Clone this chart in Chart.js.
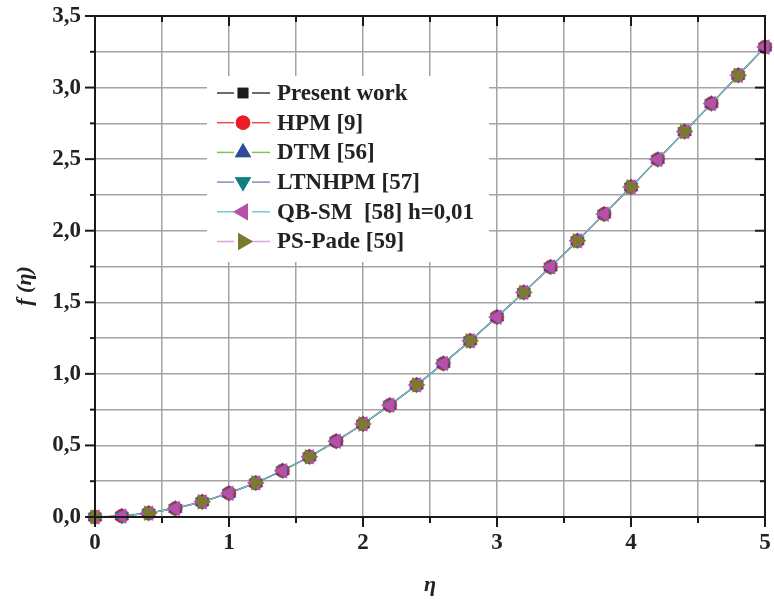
<!DOCTYPE html>
<html>
<head>
<meta charset="utf-8">
<script src="https://cdn.jsdelivr.net/npm/chart.js@4.4.1/dist/chart.umd.min.js"></script>
<style>
  html, body { margin: 0; padding: 0; background: #fff; }
  #wrap { width: 774px; height: 602px; }
</style>
</head>
<body>
<div id="wrap"><canvas id="c" width="774" height="602"></canvas></div>
<script>
// ---- Data ----
const eta = [0, 0.2, 0.4, 0.6, 0.8, 1.0, 1.2, 1.4, 1.6, 1.8, 2.0, 2.2, 2.4, 2.6, 2.8, 3.0, 3.2, 3.4, 3.6, 3.8, 4.0, 4.2, 4.4, 4.6, 4.8, 5.0];
const presentWork = [0, 0.0066, 0.0266, 0.0597, 0.1061, 0.1656, 0.2380, 0.3230, 0.4203, 0.5295, 0.6500, 0.7812, 0.9223, 1.0725, 1.2310, 1.3968, 1.5691, 1.7470, 1.9295, 2.1161, 2.3058, 2.4981, 2.6924, 2.8883, 3.0853, 3.2833];
const hpm9 = [0, 0.0066, 0.0266, 0.0597, 0.1061, 0.1656, 0.2380, 0.3230, 0.4203, 0.5295, 0.6500, 0.7812, 0.9223, 1.0725, 1.2310, 1.3968, 1.5691, 1.7470, 1.9295, 2.1161, 2.3058, 2.4981, 2.6924, 2.8883, 3.0853, 3.2833];
const dtm56 = [0, 0.0066, 0.0266, 0.0597, 0.1061, 0.1656, 0.2380, 0.3230, 0.4203, 0.5295, 0.6500, 0.7812, 0.9223, 1.0725, 1.2310, 1.3968, 1.5691, 1.7470, 1.9295, 2.1161, 2.3058, 2.4981, 2.6924, 2.8883, 3.0853, 3.2833];
const ltnhpm57 = [0, 0.0066, 0.0266, 0.0597, 0.1061, 0.1656, 0.2380, 0.3230, 0.4203, 0.5295, 0.6500, 0.7812, 0.9223, 1.0725, 1.2310, 1.3968, 1.5691, 1.7470, 1.9295, 2.1161, 2.3058, 2.4981, 2.6924, 2.8883, 3.0853, 3.2833];
const qbsm58 = [0, 0.0066, 0.0266, 0.0597, 0.1061, 0.1656, 0.2380, 0.3230, 0.4203, 0.5295, 0.6500, 0.7812, 0.9223, 1.0725, 1.2310, 1.3968, 1.5691, 1.7470, 1.9295, 2.1161, 2.3058, 2.4981, 2.6924, 2.8883, 3.0853, 3.2833];
const etaPade = [0, 0.4, 0.8, 1.2, 1.6, 2.0, 2.4, 2.8, 3.2, 3.6, 4.0, 4.4, 4.8];
const psPade59 = [0, 0.0266, 0.1061, 0.2380, 0.4203, 0.6500, 0.9223, 1.2310, 1.5691, 1.9295, 2.3058, 2.6924, 3.0853];

const seriesNames = ['Present work', 'HPM [9]', 'DTM [56]', 'LTNHPM [57]', 'QB-SM  [58] h=0,01', 'PS-Pade [59]'];
const xTickLabels = ['0', '1', '2', '3', '4', '5'];
const yTickLabels = ['0,0', '0,5', '1,0', '1,5', '2,0', '2,5', '3,0', '3,5'];
const xTitle = 'η';
const yTitle = 'f (η)';

// ---- Styles ----
const styles = [
  { line: '#3a3a3a', fill: '#1c1c1c', shape: 'rect',     rot: 0,   r: 6.5, lr: 6.5 },
  { line: '#f04a4a', fill: '#ee1c25', shape: 'circle',   rot: 0,   r: 7,   lr: 6.5 },
  { line: '#7cc35a', fill: '#2f4a9e', shape: 'triangle', rot: 0,   r: 8,   lr: 8 },
  { line: '#7f8cc8', fill: '#0f8080', shape: 'triangle', rot: 180, r: 8,   lr: 8 },
  { line: '#78c8d4', fill: '#b94fa6', shape: 'triangle', rot: 270, r: 8.5, lr: 8.5 },
  { line: '#dba6d6', fill: '#7b7b2b', shape: 'triangle', rot: 90,  r: 8.5, lr: 8.5 }
];

function pts(xs, ys) { return xs.map((x, i) => ({ x: x, y: ys[i] })); }
const seriesData = [
  pts(eta, presentWork), pts(eta, hpm9), pts(eta, dtm56),
  pts(eta, ltnhpm57), pts(eta, qbsm58), pts(etaPade, psPade59)
];

const datasets = [];
const lineOrder = [11, 14, 13, 12, 10, 15];
seriesData.forEach((d, i) => {
  datasets.push({
    label: seriesNames[i] + ' line',
    data: d,
    borderColor: styles[i].line,
    borderWidth: 1.2,
    pointRadius: 0,
    fill: false,
    tension: 0,
    order: lineOrder[i]
  });
});
seriesData.forEach((d, i) => {
  datasets.push({
    label: seriesNames[i],
    data: d,
    showLine: false,
    pointStyle: styles[i].shape,
    rotation: styles[i].rot,
    pointRadius: styles[i].r,
    pointBackgroundColor: styles[i].fill,
    pointBorderColor: styles[i].fill,
    pointBorderWidth: 0.5,
    clip: false,
    order: 5 - i
  });
});

const SERIF = "'Liberation Serif', 'Times New Roman', serif";

function noPad(s) { s.paddingLeft = 0; s.paddingRight = 0; s.paddingTop = 0; s.paddingBottom = 0; }

const framePlugin = {
  id: 'frame',
  afterDraw(chart) {
    const ctx = chart.ctx;
    const a = chart.chartArea;
    const xs = chart.scales.x, ys = chart.scales.y;
    ctx.save();
    ctx.strokeStyle = '#1a1a1a';
    ctx.lineWidth = 2;
    ctx.strokeRect(a.left, a.top, a.right - a.left, a.bottom - a.top);
    for (let k = 0; k <= 14; k++) {
      const y = ys.getPixelForValue(k * 0.25);
      const len = (k % 2 === 0) ? 10 : 5;
      ctx.beginPath(); ctx.moveTo(a.left - len, y); ctx.lineTo(a.left, y); ctx.stroke();
      ctx.beginPath(); ctx.moveTo(a.right - len, y); ctx.lineTo(a.right, y); ctx.stroke();
    }
    for (let k = 0; k <= 10; k++) {
      const x = xs.getPixelForValue(k * 0.5);
      const len = (k % 2 === 0) ? 10 : 6;
      ctx.beginPath(); ctx.moveTo(x, a.bottom); ctx.lineTo(x, a.bottom + len); ctx.stroke();
      ctx.beginPath(); ctx.moveTo(x, a.top); ctx.lineTo(x, a.top + len); ctx.stroke();
    }
    // y axis title
    ctx.fillStyle = '#222222';
    ctx.font = 'italic bold 22px ' + SERIF;
    ctx.textAlign = 'center';
    ctx.textBaseline = 'middle';
    ctx.translate(25, 286);
    ctx.rotate(-Math.PI / 2);
    ctx.fillText(yTitle, 0, 0);
    ctx.restore();
  }
};

const legendPlugin = {
  id: 'innerLegend',
  afterDraw(chart) {
    const ctx = chart.ctx;
    ctx.save();
    ctx.fillStyle = '#ffffff';
    ctx.fillRect(207, 76, 282, 186);
    const x0 = 217, x1 = 234, x2 = 252, x3 = 270, mx = 243, tx = 277;
    const rowY0 = 93, dy = 29.7;
    ctx.font = 'bold 23px ' + SERIF;
    ctx.textBaseline = 'middle';
    ctx.textAlign = 'left';
    seriesNames.forEach((name, i) => {
      const y = rowY0 + i * dy;
      const s = styles[i];
      ctx.strokeStyle = s.line;
      ctx.lineWidth = 1.5;
      ctx.beginPath(); ctx.moveTo(x0, y); ctx.lineTo(x1, y); ctx.stroke();
      ctx.beginPath(); ctx.moveTo(x2, y); ctx.lineTo(x3, y); ctx.stroke();
      Chart.helpers.drawPoint(ctx, {
        pointStyle: s.shape, rotation: s.rot, radius: s.lr, borderWidth: 0.5
      }, mx, y);
      ctx.fillStyle = s.fill;
      ctx.strokeStyle = s.fill;
      ctx.fill();
      ctx.stroke();
      ctx.fillStyle = '#222222';
      ctx.fillText(name, tx, y + 1);
    });
    ctx.restore();
  }
};

new Chart(document.getElementById('c'), {
  type: 'line',
  data: { datasets: datasets },
  plugins: [framePlugin, legendPlugin],
  options: {
    responsive: false,
    animation: false,
    devicePixelRatio: 1,
    layout: { padding: { top: 16, right: 5, left: 0, bottom: 0 } },
    plugins: { legend: { display: false }, tooltip: { enabled: false } },
    scales: {
      x: {
        type: 'linear', min: 0, max: 5,
        afterFit(s) { s.height = 85; noPad(s); },
        grid: { color: '#a3a3a3', lineWidth: 1.5, drawTicks: false },
        border: { display: false },
        ticks: {
          stepSize: 0.5, autoSkip: false, maxRotation: 0, padding: 12,
          color: '#222222',
          font: { family: SERIF, size: 23, weight: 'bold' },
          callback(v) { return Number.isInteger(v) ? xTickLabels[v] : ''; }
        },
        title: {
          display: true, text: xTitle, color: '#222222',
          font: { family: SERIF, size: 22, weight: 'bold', style: 'italic' },
          padding: { top: 0, bottom: 3 }
        }
      },
      y: {
        type: 'linear', min: 0, max: 3.5,
        afterFit(s) { s.width = 95; noPad(s); },
        grid: { color: '#a3a3a3', lineWidth: 1.5, drawTicks: false },
        border: { display: false },
        ticks: {
          stepSize: 0.25, autoSkip: false, padding: 14,
          color: '#222222',
          font: { family: SERIF, size: 23, weight: 'bold' },
          callback(v) {
            const k = Math.round(v * 2);
            return Math.abs(v * 2 - k) < 1e-9 ? yTickLabels[k] : '';
          }
        }
      }
    }
  }
});
</script>
</body>
</html>
